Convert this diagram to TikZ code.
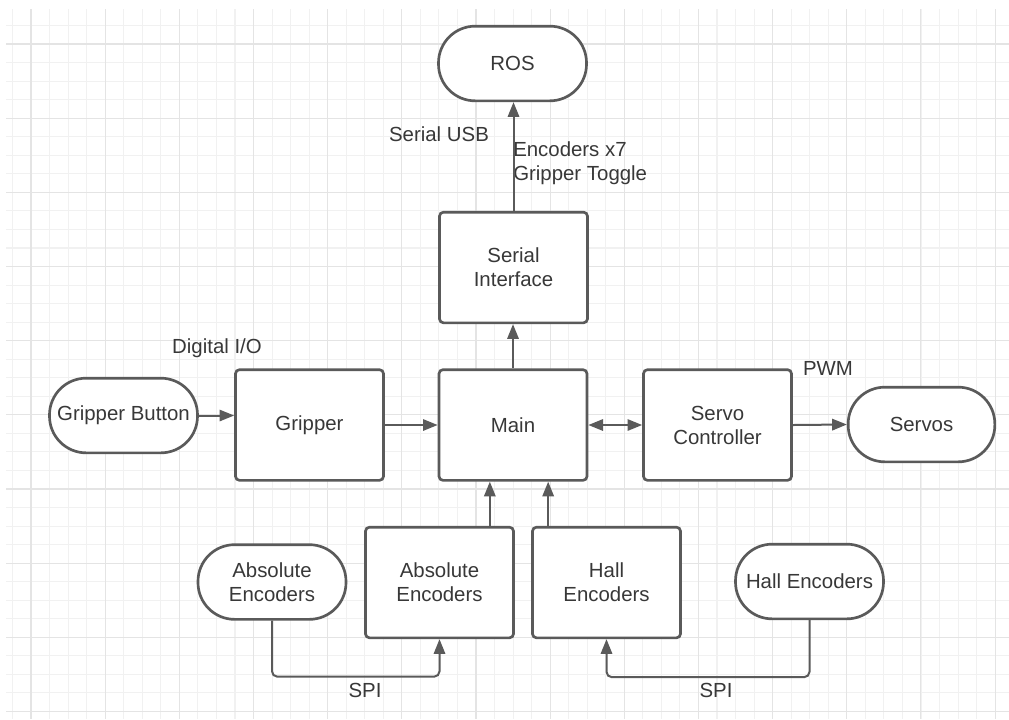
\documentclass[tikz,border=0pt]{standalone}
\usepackage{fontspec}
\setmainfont{Liberation Sans}
\usetikzlibrary{arrows.meta,calc}
\definecolor{edge}{HTML}{5A5A5A}
\definecolor{txt}{HTML}{383838}
\definecolor{gminor}{HTML}{F1F1F1}
\definecolor{gmajor}{HTML}{E4E4E4}
\tikzset{
  box/.style={draw=edge, line width=2pt, rounded corners=3pt, fill=white,
    minimum width=111pt, minimum height=83pt, align=center, text=txt,
    font=\fontsize{15.3pt}{18pt}\selectfont, inner sep=0pt},
  stadium/.style={draw=edge, line width=2pt, rounded corners=27.5pt, fill=white,
    minimum width=111pt, minimum height=56pt, align=center, text=txt,
    font=\fontsize{15.3pt}{18pt}\selectfont, inner sep=0pt},
  lbl/.style={text=txt, font=\fontsize{15.3pt}{18pt}\selectfont, inner sep=0pt, align=left},
  conn/.style={draw=edge, line width=1.5pt},
  arr/.style={conn, -{Triangle[length=11pt,width=8.5pt]}},
  darr/.style={conn, {Triangle[length=11pt,width=8.5pt]}-{Triangle[length=11pt,width=8.5pt]}},
  minorline/.style={gminor, line width=0.8pt},
  majorline/.style={gmajor, line width=0.8pt}
}
\begin{document}
\begin{tikzpicture}[x=0.75pt, y=-0.75pt]
\useasboundingbox (0,0) rectangle (1009,719);
\fill[white] (0,0) rectangle (1009,719);
% grid
\foreach \i in {0,...,53} \draw[minorline] ({12.5+18.54*\i},9) -- ({12.5+18.54*\i},719);
\foreach \j in {0,...,37} \draw[minorline] (6,{25.5+18.54*\j}) -- (1009,{25.5+18.54*\j});
\foreach \i in {0,...,13} \draw[majorline] ({31+74.16*\i},9) -- ({31+74.16*\i},719);
\foreach \j in {0,...,9} \draw[majorline] (6,{44+74.16*\j}) -- (1009,{44+74.16*\j});

% nodes
\node[stadium] (ros) at (512.5,63.5) {ROS};
\node[box] (serial) at (513.5,267.5) {Serial\\Interface};
\node[box] (main) at (513,425) {Main};
\node[box] (gripper) at (309.5,425) {Gripper};
\node[stadium] (button) at (123.5,415.5) {Gripper Button};
\node[box] (servo) at (717.5,425) {Servo\\Controller};
\node[stadium, minimum width=110pt] (servos) at (921.5,424.5) {Servos};
\node[stadium] (absst) at (272,582) {Absolute\\Encoders};
\node[box] (absbox) at (439.5,582.5) {Absolute\\Encoders};
\node[box] (hallbox) at (606.5,582.5) {Hall\\Encoders};
\node[stadium] (hallst) at (809.5,581.5) {Hall Encoders};

% labels
\node[lbl] (serialusb) at (439,134) {Serial USB};
\node[lbl, anchor=west] (enc) at (513,163.5) {Encoders x7\\Gripper Toggle};
\node[lbl] (digio) at (217,348) {Digital I/O};
\node[lbl] (pwm) at (828,368) {PWM};
\node[lbl] (spia) at (365,690) {SPI};
\node[lbl] (spib) at (716,690) {SPI};

% connectors
\draw[arr] (serial.north) -- (serial.north |- ros.south);
\draw[arr] (main.north) -- (main.north |- serial.south);
\draw[arr] (button.east) -- (button.east -| gripper.west);
\draw[arr] (gripper.east) -- (main.west);
\draw[darr] (main.east) -- (servo.west);
\draw[arr] (servo.east) -- (servos.west);
\coordinate (a1) at ($(absbox.north east)+(-25,0)$);
\coordinate (h1) at ($(hallbox.north west)+(17,0)$);
\draw[arr] (a1) -- (a1 |- main.south);
\draw[arr] (h1) -- (h1 |- main.south);
\draw[arr, rounded corners=4pt] (absst.south) -- ++(0,56) -| (absbox.south);
\draw[arr, rounded corners=4pt] (hallst.south) -- ++(0,57) -| (hallbox.south);
\end{tikzpicture}
\end{document}
